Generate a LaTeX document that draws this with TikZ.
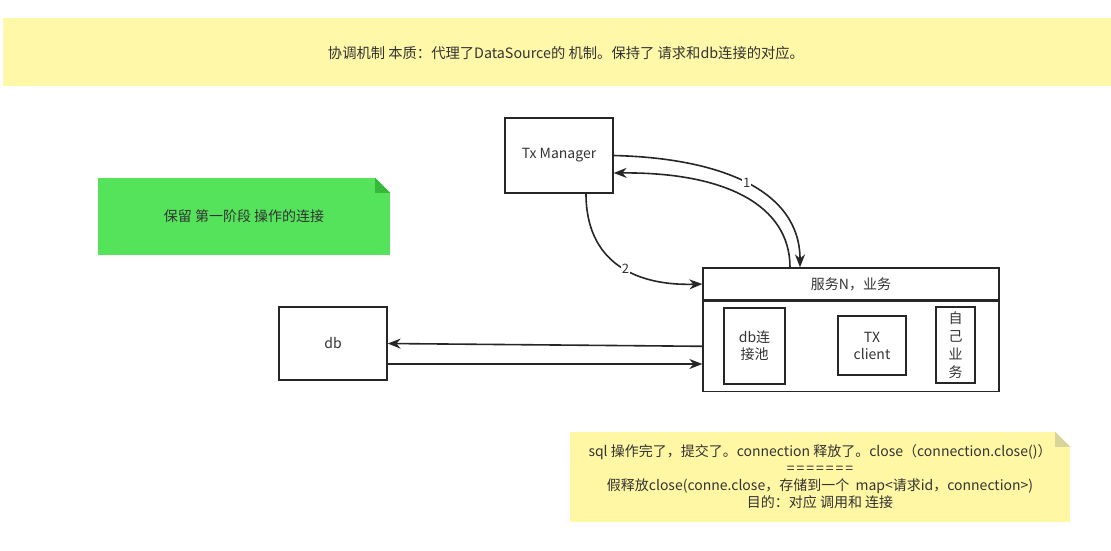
\documentclass[tikz,border=0pt]{standalone}
\usepackage{fontspec}
\setmainfont{Noto Sans CJK SC}
\usepackage{tikz}
\usetikzlibrary{arrows.meta,positioning,calc}

\definecolor{bannery}{HTML}{FFF8A8}
\definecolor{notey}{HTML}{FFF7A4}
\definecolor{notefold}{HTML}{D8D49A}
\definecolor{greennote}{HTML}{55E35C}
\definecolor{greenfold}{HTML}{35B83C}
\definecolor{txtgray}{HTML}{333333}

\begin{document}
\begin{tikzpicture}[
    x=1pt, y=-1pt,
    box/.style={rectangle, draw=black!85, line width=1.3pt, align=center, text=txtgray, font=\fontsize{14}{17}\selectfont},
    note/.style={rectangle, align=center, text=txtgray, font=\fontsize{14}{17}\selectfont},
    arrow/.style={-{Stealth[length=13pt,width=10pt]}, line width=1.6pt, black!85},
    num/.style={fill=white, inner sep=1pt, text=txtgray, font=\fontsize{13}{15}\selectfont}
]
\useasboundingbox[fill=white] (0,0) rectangle (1111,550);

% Banner
\node[note, fill=bannery, minimum width=1108pt, minimum height=68pt, anchor=north west] (banner) at (3,18) {};
\node[text=txtgray, font=\fontsize{14.3}{17}\selectfont] (bannertxt) at (566,53) {协调机制 本质：代理了DataSource的 机制。保持了 请求和db连接的对应。};

% Tx Manager
\node[box, minimum width=108pt, minimum height=75pt] (txm) at (559,155.5) {Tx Manager};

% Green note
\node[note, fill=greennote, minimum width=292pt, minimum height=77pt] (keep) at (244,216.5) {保留 第一阶段 操作的连接};
\fill[white] (keep.north east) -- ($(keep.north east)+(-15,0)$) -- ($(keep.north east)+(0,15)$) -- cycle;
\fill[greenfold] ($(keep.north east)+(-15,0)$) -- ($(keep.north east)+(0,15)$) -- ($(keep.north east)+(-15,15)$) -- cycle;

% Service N
\node[box, minimum width=296pt, minimum height=32pt] (svc) at (851,284) {服务N，业务};
\node[box, minimum width=296pt, minimum height=90pt, below=0pt of svc] (body) {};
\node[box, minimum width=61pt, minimum height=76pt] (pool) at (754.5,346) {db连\\接池};
\node[box, minimum width=68pt, minimum height=59pt] (txc) at (872,345.5) {TX\\client};
\node[box, minimum width=39pt, minimum height=76pt, inner sep=1pt, font=\fontsize{14}{18}\selectfont] (own) at (955.5,345) {自\\己\\业\\务};

% db
\node[box, minimum width=108pt, minimum height=73pt] (db) at (333,343.5) {db};

% Bottom note
\node[note, fill=notey, minimum width=500pt, minimum height=90pt] (fake) at (820,477) {sql 操作完了，提交了。connection 释放了。close（connection.close()）\\=\kern2pt=\kern2pt=\kern2pt=\kern2pt=\kern2pt=\kern2pt=\\假释放close(conne.close，存储到一个 \ map<请求id，connection>)\\目的：对应 调用和 连接};
\fill[white] (fake.north east) -- ($(fake.north east)+(-15,0)$) -- ($(fake.north east)+(0,15)$) -- cycle;
\fill[notefold] ($(fake.north east)+(-15,0)$) -- ($(fake.north east)+(0,15)$) -- ($(fake.north east)+(-15,15)$) -- cycle;

% Arrows
\draw[arrow] (txm.east) .. controls (720,158) and (800,190) .. node[num, pos=0.5] (n1) {1} ([xshift=-51pt]svc.north);
\draw[arrow] ([xshift=-61pt]svc.north) .. controls (790,205) and (725,172) .. ([yshift=-17.5pt]txm.east);
\draw[arrow] ([xshift=27pt]txm.south) .. controls (586,262) and (635,286) .. node[num, pos=0.55] (n2) {2} (svc.west);
\draw[arrow] (body.west) -- (db.east);
\draw[arrow] ([yshift=-20.5pt]db.east) -- ([yshift=-20.5pt]db.east -| body.west);

\end{tikzpicture}
\end{document}
